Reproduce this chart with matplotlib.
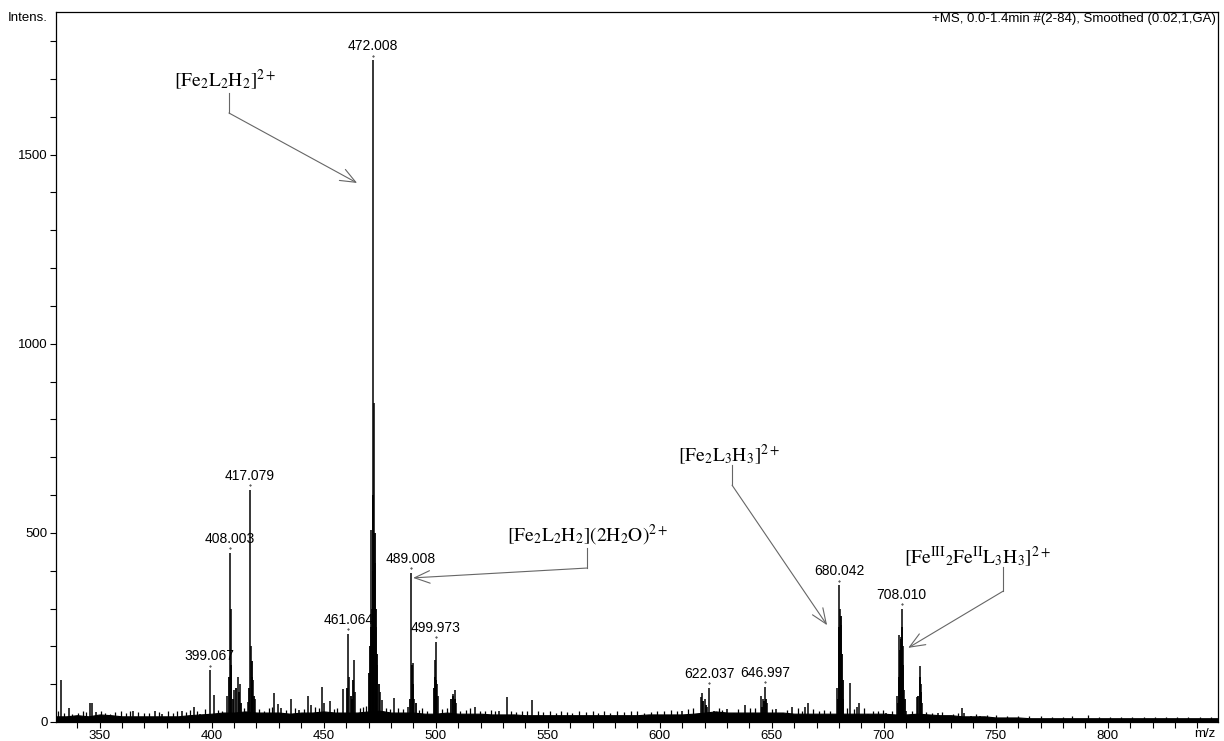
import numpy as np
import matplotlib.pyplot as plt
from matplotlib.ticker import MultipleLocator

plt.rcParams['font.family'] = ['Liberation Sans', 'DejaVu Sans']
plt.rcParams['mathtext.fontset'] = 'stix'

# peak sticks (m/z, intensity)
peak_mz = [332.7, 336.5, 345.5, 346.7, 348.5, 365.0, 374.8, 378.0, 386.8, 392.3,
           395.0, 399.07, 401.0, 407.0, 408.0, 408.4, 410.0, 411.6, 412.5, 416.0,
           417.08, 417.5, 418.6, 419.5, 428.0, 429.6, 431.0, 435.2, 439.0, 443.0,
           444.2, 449.4, 450.1, 452.7, 457.0, 458.4, 461.06, 461.5, 463.6, 464.0,
           471.0, 471.5, 472.01, 472.5, 473.0, 473.5, 474.0, 475.0, 476.1, 481.4,
           487.8, 489.01, 490.0, 490.5, 499.5, 499.97, 500.5, 501.0, 507.5, 508.4,
           509.0, 517.4, 528.3, 531.7, 543.0, 610.0, 618.5, 619.0, 620.0, 621.0,
           622.04, 624.0, 630.0, 633.0, 638.0, 645.0, 646.0, 647.0, 648.0, 652.0,
           655.0, 659.0, 665.0, 666.0, 679.0, 680.04, 680.5, 681.0, 682.0, 685.0,
           688.0, 689.0, 693.0, 701.0, 706.0, 707.0, 707.5, 708.01, 708.5, 709.0,
           710.0, 715.0, 716.0, 716.5, 717.0, 724.0, 728.0, 735.0, 736.0, 739.0,
           743.0, 787.0]
peak_int = [112, 37, 50, 50, 27, 30, 30, 22, 30, 40,
            20, 137, 71, 68, 447, 300, 85, 119, 100, 53,
            614, 200, 111, 60, 76, 48, 37, 60, 32, 70,
            45, 93, 50, 56, 25, 87, 233, 120, 164, 80,
            508, 300, 1750, 843, 421, 250, 150, 80, 58, 63,
            40, 394, 156, 60, 164, 212, 100, 70, 75, 85,
            50, 40, 30, 67, 58, 30, 65, 77, 60, 40,
            90, 30, 35, 25, 45, 70, 60, 93, 50, 35,
            25, 40, 40, 50, 90, 362, 300, 256, 60, 103,
            40, 50, 20, 25, 70, 230, 225, 300, 200, 85,
            30, 66, 148, 100, 50, 24, 15, 37, 25, 15,
            15, 8]

# broad feet of the isotope clusters
foot_mz = [407.6, 408.8, 409.3, 411.0, 412.0, 413.0, 416.6, 417.8, 418.2, 419.0,
           460.6, 462.0, 462.6, 463.2, 470.4, 470.7, 471.2, 471.8, 472.2, 472.8,
           473.2, 473.8, 474.5, 488.7, 489.4, 489.7, 491.0, 499.2, 499.8, 500.2,
           507.0, 507.8, 508.7, 619.5, 620.5, 645.5, 646.5, 647.5, 679.6, 680.2,
           680.8, 681.3, 681.6, 706.5, 706.8, 707.2, 707.8, 708.2, 708.8, 709.4,
           715.5, 716.2, 716.8]
foot_int = [120, 150, 60, 90, 80, 50, 90, 160, 120, 70,
            90, 70, 60, 110, 130, 200, 250, 400, 600, 500,
            300, 180, 100, 60, 150, 100, 50, 90, 120, 110,
            60, 70, 60, 55, 45, 40, 55, 60, 60, 250,
            280, 180, 110, 50, 120, 190, 220, 250, 150, 60,
            70, 120, 80]

# baseline noise spikes
noise_spike_mz = [331.5, 334.0, 337.8, 340.2, 342.5, 344.0, 350.5, 352.3, 354.8, 357.0,
                  359.5, 361.8, 363.5, 367.2, 369.8, 372.0, 376.5, 380.3, 382.6, 384.5,
                  388.5, 390.4, 393.5, 397.2, 402.6, 404.5, 414.5, 421.2, 423.5, 425.8,
                  427.0, 433.0, 437.0, 441.0, 446.0, 447.8, 454.6, 455.8, 466.0, 467.5,
                  469.0, 478.0, 479.5, 483.3, 485.5, 492.5, 494.0, 496.0, 503.0, 505.0,
                  511.0, 513.5, 515.5, 519.6, 522.0, 524.5, 526.5, 533.5, 536.0, 538.5,
                  540.8, 545.5, 548.0, 551.0, 553.5, 556.0, 558.5, 561.0, 564.0, 567.0,
                  570.0, 572.5, 575.0, 578.0, 581.0, 584.0, 587.0, 590.0, 593.0, 596.0,
                  599.0, 602.0, 605.0, 607.5, 612.5, 615.0, 626.5, 628.0, 635.0, 640.5,
                  642.5, 650.0, 657.0, 661.5, 663.5, 668.5, 671.0, 673.5, 676.0, 683.5,
                  686.5, 691.0, 695.0, 697.5, 699.5, 703.5, 712.5, 719.0, 721.5, 726.0,
                  731.0, 733.0, 741.0, 746.0, 750.0, 755.0, 760.0, 765.0, 770.0, 775.0,
                  780.0, 784.0, 791.0, 796.0, 801.0, 806.0, 811.0, 816.0, 821.0, 826.0,
                  831.0, 836.0, 841.0, 846.0]
noise_spike_int = [30, 25, 22, 24, 28, 26, 30, 24, 22, 26,
                   28, 23, 30, 27, 24, 25, 26, 28, 24, 30,
                   27, 32, 28, 35, 33, 30, 38, 34, 30, 36,
                   40, 32, 38, 35, 40, 36, 34, 38, 36, 40,
                   42, 38, 34, 36, 35, 32, 36, 30, 34, 38,
                   30, 32, 36, 30, 28, 32, 28, 30, 26, 30,
                   28, 30, 26, 28, 24, 30, 27, 25, 28, 26,
                   30, 25, 28, 24, 30, 26, 28, 30, 25, 27,
                   30, 28, 32, 30, 34, 38, 36, 32, 34, 38,
                   36, 34, 32, 36, 30, 34, 30, 32, 28, 38,
                   34, 36, 30, 28, 32, 30, 30, 26, 24, 26,
                   22, 24, 20, 18, 18, 16, 16, 15, 15, 14,
                   14, 15, 18, 14, 14, 13, 14, 13, 13, 12,
                   13, 12, 12, 12]

# noise floor, every 5 m/z from 330 to 850
noise_mz = list(range(330, 851, 5))
noise_int = [15, 15, 18, 15,
             20, 18, 15, 15, 15,
             15, 15, 15, 18, 20, 22,
             25, 25, 28, 25, 25, 25, 22, 25, 25, 28, 25, 25, 25, 28,
             30, 25, 25, 25, 22, 22, 25, 22, 22, 22, 20, 20,
             20, 18, 18, 18, 18, 18, 18, 18, 18, 18, 18, 18, 20, 20, 20, 20, 22, 25,
             28, 25, 25, 25, 25, 25, 25, 22, 22, 22, 22, 22, 22, 22, 22, 22,
             20, 20, 22, 20, 18, 18, 15, 15, 15, 12, 12, 12,
             10, 10, 10, 10, 10, 10, 10, 10, 10, 10, 10, 10, 10, 10, 10, 10, 10, 10]

label_mz = [399.067, 408.003, 417.079, 461.064, 472.008, 489.008, 499.973,
            622.037, 646.997, 680.042, 708.010]
label_int = [137, 447, 614, 233, 1750, 394, 212, 90, 93, 362, 300]

fig = plt.figure(figsize=(12.24, 7.41), dpi=100)
ax = fig.add_axes([56 / 1224, 1 - 722 / 741, 1162 / 1224, 710 / 741])

n = min(len(noise_mz), len(noise_int))
ax.fill_between(noise_mz[:n], 0, noise_int[:n], color='k', lw=0.8)
ax.vlines(noise_spike_mz, 0, noise_spike_int, color='k', lw=0.9)
ax.vlines(foot_mz, 0, foot_int, color='k', lw=1.3)
ax.vlines(peak_mz, 0, peak_int, color='k', lw=1.1)

for mz, y in zip(label_mz, label_int):
    ax.plot([mz], [y + 12], marker='.', ms=0.8, color='k')
    ax.annotate('%.3f' % mz, xy=(mz, y), xytext=(0, 5), textcoords='offset points',
                ha='center', va='bottom', fontsize=10)

# assignments with bent arrows
notes = [
    (r'$[\mathrm{Fe_2L_2H_2}]^{2+}$', (406.0, 1697), (407.7, 1663), (407.7, 1610), (464.9, 1425)),
    (r'$[\mathrm{Fe_2L_2H_2}](2\mathrm{H_2O})^{2+}$', (567.8, 494), (567.5, 460), (567.5, 407), (489.9, 381)),
    (r'$[\mathrm{Fe_2L_3H_3}]^{2+}$', (631.0, 706), (632.3, 679), (632.3, 626), (674.7, 256)),
    (r'$[\mathrm{Fe^{III}{}_2Fe^{II}L_3H_3}]^{2+}$', (741.7, 436), (753.3, 410), (753.3, 346), (710.9, 196)),
]
for txt, tpos, p0, p1, tgt in notes:
    ax.text(tpos[0], tpos[1], txt, ha='center', va='center', fontsize=14)
    ax.plot([p0[0], p1[0]], [p0[1], p1[1]], color='0.4', lw=0.8)
    ax.annotate('', xy=tgt, xytext=p1,
                arrowprops=dict(arrowstyle='->,head_length=1.1,head_width=0.45',
                                color='0.4', lw=0.8, shrinkA=0, shrinkB=0))

ax.set_xlim(330.5, 849.2)
ax.set_ylim(0, 1877)
ax.xaxis.set_major_locator(MultipleLocator(50))
ax.xaxis.set_minor_locator(MultipleLocator(10))
ax.yaxis.set_major_locator(MultipleLocator(500))
ax.yaxis.set_minor_locator(MultipleLocator(100))
ax.tick_params(which='both', length=4, width=0.8, labelsize=9.5, pad=2)
for s in ax.spines.values():
    s.set_linewidth(0.9)

ax.text(0.998, 0.998, '+MS, 0.0-1.4min #(2-84), Smoothed (0.02,1,GA)',
        transform=ax.transAxes, ha='right', va='top', fontsize=9.5)
fig.text(8 / 1224, 1 - 18 / 741, 'Intens.', ha='left', va='center', fontsize=9.5)
fig.text(1205 / 1224, 1 - 734 / 741, 'm/z', ha='center', va='center', fontsize=9.5)

fig.savefig('out.png', dpi=100)
